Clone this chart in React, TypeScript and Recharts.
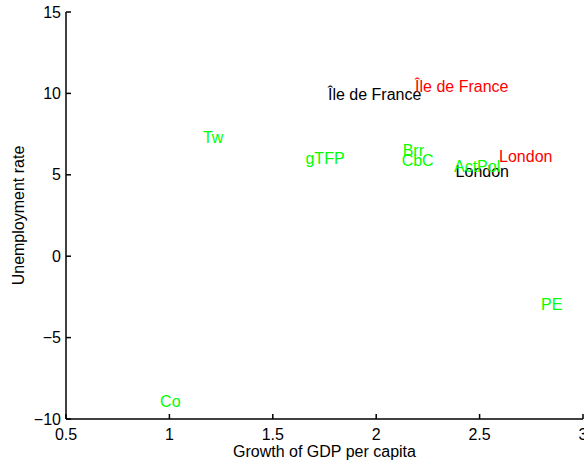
import React from 'react';
import { ScatterChart, Scatter, XAxis, YAxis, Label } from 'recharts';

const greenLabels = ['Tw', 'gTFP', 'Brr', 'CbC', 'ActPol', 'PE', 'Co'];
const greenX = [1.162, 1.658, 2.128, 2.123, 2.376, 2.797, 0.955];
const greenY = [7.3, 6.02, 6.48, 5.87, 5.52, -2.97, -8.94];

const redLabels = ['Île de France', 'London'];
const redX = [2.188, 2.594];
const redY = [10.4, 6.12];

const blackLabels = ['Île de France', 'London'];
const blackX = [1.767, 2.384];
const blackY = [9.95, 5.2];

const xTicks = [0.5, 1, 1.5, 2, 2.5, 3];
const yTicks = [-10, -5, 0, 5, 10, 15];

const FONT = '"Liberation Sans", Arial, Helvetica, sans-serif';

const build = (labels: string[], xs: number[], ys: number[]) =>
  labels.map((label, i) => ({ label, x: xs[i], y: ys[i] }));

const greenData = build(greenLabels, greenX, greenY);
const redData = build(redLabels, redX, redY);
const blackData = build(blackLabels, blackX, blackY);

const fmt = (v: number) => String(v).replace('-', '\u2212');

const makeShape = (color: string) => (props: any) => {
  const { cx, cy, payload } = props;
  return (
    <text
      x={cx}
      y={cy}
      dy="0.35em"
      fill={color}
      fontSize={16}
      fontFamily={FONT}
      textAnchor="start"
    >
      {payload.label}
    </text>
  );
};

const EmptyTick = () => <g />;

const YLabel = (props: any) => {
  const vb = props.viewBox || {};
  const cx = vb.x + 18;
  const cy = vb.y + vb.height / 2;
  return (
    <text
      x={cx}
      y={cy}
      transform={`rotate(-90 ${cx} ${cy})`}
      textAnchor="middle"
      dy="0.35em"
      fontSize={16}
      fontFamily={FONT}
      fill="#000"
    >
      Unemployment rate
    </text>
  );
};

export default function App() {
  const tickStyle = { fontSize: 16, fontFamily: FONT, fill: '#000' };
  return (
    <div style={{ position: 'absolute', left: 0, top: 0, background: '#fff' }}>
      <ScatterChart
        width={584}
        height={463}
        margin={{ top: 12, right: 1, bottom: 0, left: 0 }}
      >
        <XAxis
          xAxisId="b"
          type="number"
          dataKey="x"
          domain={[0.5, 3]}
          ticks={xTicks}
          interval={0}
          allowDataOverflow
          height={44}
          tickSize={-5}
          tickMargin={15}
          stroke="#000"
          strokeWidth={1.5}
          tick={tickStyle}
          tickFormatter={fmt}
        >
          <Label
            value="Growth of GDP per capita"
            position="insideBottom"
            offset={6}
            style={{ fontSize: 16, fontFamily: FONT, fill: '#000' }}
          />
        </XAxis>
        <XAxis
          xAxisId="t"
          orientation="top"
          type="number"
          dataKey="x"
          domain={[0.5, 3]}
          ticks={xTicks}
          interval={0}
          allowDataOverflow
          height={0}
          tickSize={-5}
          tick={EmptyTick}
          stroke="#000"
          strokeWidth={1.5}
        />
        <YAxis
          yAxisId="l"
          type="number"
          dataKey="y"
          domain={[-10, 15]}
          ticks={yTicks}
          interval={0}
          allowDataOverflow
          width={66}
          tickSize={-5}
          tickMargin={10}
          stroke="#000"
          strokeWidth={1.5}
          tick={tickStyle}
          tickFormatter={fmt}
        >
          <Label content={YLabel} />
        </YAxis>
        <YAxis
          yAxisId="r"
          orientation="right"
          type="number"
          dataKey="y"
          domain={[-10, 15]}
          ticks={yTicks}
          interval={0}
          allowDataOverflow
          width={0}
          tickSize={-5}
          tick={EmptyTick}
          stroke="#000"
          strokeWidth={1.5}
        />
        <Scatter
          xAxisId="t"
          yAxisId="r"
          data={greenData}
          shape={() => <g />}
          isAnimationActive={false}
        />
        <Scatter
          xAxisId="b"
          yAxisId="l"
          data={blackData}
          shape={makeShape('#000000')}
          isAnimationActive={false}
        />
        <Scatter
          xAxisId="b"
          yAxisId="l"
          data={redData}
          shape={makeShape('#ff0000')}
          isAnimationActive={false}
        />
        <Scatter
          xAxisId="b"
          yAxisId="l"
          data={greenData}
          shape={makeShape('#00ff00')}
          isAnimationActive={false}
        />
      </ScatterChart>
    </div>
  );
}
